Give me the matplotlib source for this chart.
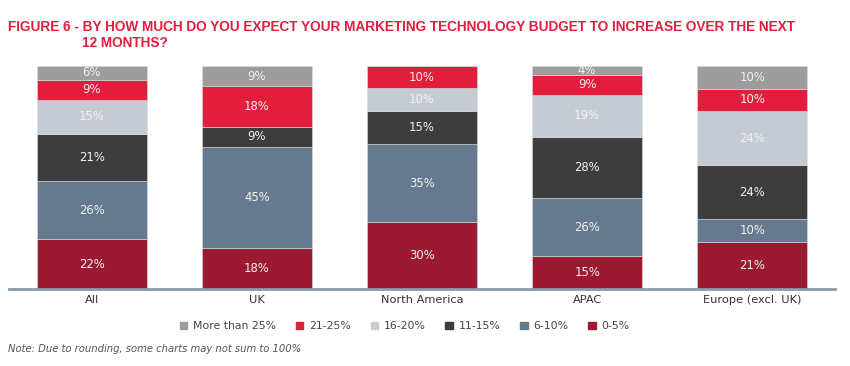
import matplotlib.pyplot as plt
import numpy as np

regions = ["All", "UK", "North America", "APAC", "Europe (excl. UK)"]
bands = ["0-5%", "6-10%", "11-15%", "16-20%", "21-25%", "More than 25%"]
band_0_5 = [22, 18, 30, 15, 21]
band_6_10 = [26, 45, 35, 26, 10]
band_11_15 = [21, 9, 15, 28, 24]
band_16_20 = [15, 0, 10, 19, 24]
band_21_25 = [9, 18, 10, 9, 10]
band_over_25 = [6, 9, 0, 4, 10]
colors = ["#9b1a31", "#657a8e", "#3d3d3d", "#c4cbd3", "#e31e3c", "#9d9d9b"]

series = [band_0_5, band_6_10, band_11_15, band_16_20, band_21_25, band_over_25]

fig = plt.figure(figsize=(8.5, 3.66), dpi=100)
ax = fig.add_axes([0.011, 0.2104, 0.971, 0.6093])

data = np.array(series, dtype=float)
totals = data.sum(axis=0)
x = np.arange(len(regions))
bottom = np.zeros(len(regions))
for vals, raw, color in zip(data / totals * 100, series, colors):
    ax.bar(x, vals, bottom=bottom, width=0.667, color=color,
           edgecolor="#d8dde2", linewidth=0.4)
    for xi, b, v, r in zip(x, bottom, vals, raw):
        if r > 0:
            ax.text(xi, b + v / 2, f"{r}%", ha="center", va="center",
                    color="#f2f2f2", fontsize=8.4)
    bottom += vals

ax.set_xlim(-0.5, 4.5)
ax.set_ylim(0, 100)
ax.set_yticks([])
ax.set_xticks(x)
ax.set_xticklabels(regions, fontsize=8.2, color="#333333")
ax.tick_params(axis="x", length=0, pad=4)
for side in ["top", "left", "right"]:
    ax.spines[side].set_visible(False)
ax.spines["bottom"].set_color("#8a9aab")
ax.spines["bottom"].set_linewidth(2)

# legend in the order of the reference
legend_order = [5, 4, 3, 2, 1, 0]
handles = [plt.Rectangle((0, 0), 1, 1, color=colors[i]) for i in legend_order]
fig.legend(handles, [bands[i] for i in legend_order], loc="center",
           bbox_to_anchor=(0.476, 0.108), ncol=6, frameon=False, fontsize=7.8,
           handlelength=0.7, handleheight=0.7, handletextpad=0.5, columnspacing=1.85,
           labelcolor="#444444")

title_kw = dict(color="#e31e3c", fontweight="bold", family="Liberation Sans", va="center")
t1 = fig.text(0.009, 0.925, "FIGURE 6 - BY HOW MUCH DO YOU EXPECT YOUR MARKETING TECHNOLOGY BUDGET TO INCREASE OVER THE NEXT",
              fontsize=10, **title_kw)
t2 = fig.text(0.098, 0.882, "12 MONTHS?", fontsize=10, **title_kw)

# shrink the title so it fits the same width as in the reference
renderer = fig.canvas.get_renderer()
w = t1.get_window_extent(renderer).width
size = 10 * 787 / w
t1.set_fontsize(size)
t2.set_fontsize(size)
prefix = fig.text(0, 0, "FIGURE 6 - ", fontsize=size, **title_kw)
t2.set_x(0.009 + prefix.get_window_extent(renderer).width / fig.bbox.width)
prefix.remove()

fig.text(0.009, 0.046, "Note: Due to rounding, some charts may not sum to 100%",
         color="#555555", fontsize=7.2, style="italic", va="center")

fig.savefig("out.png", dpi=100)
